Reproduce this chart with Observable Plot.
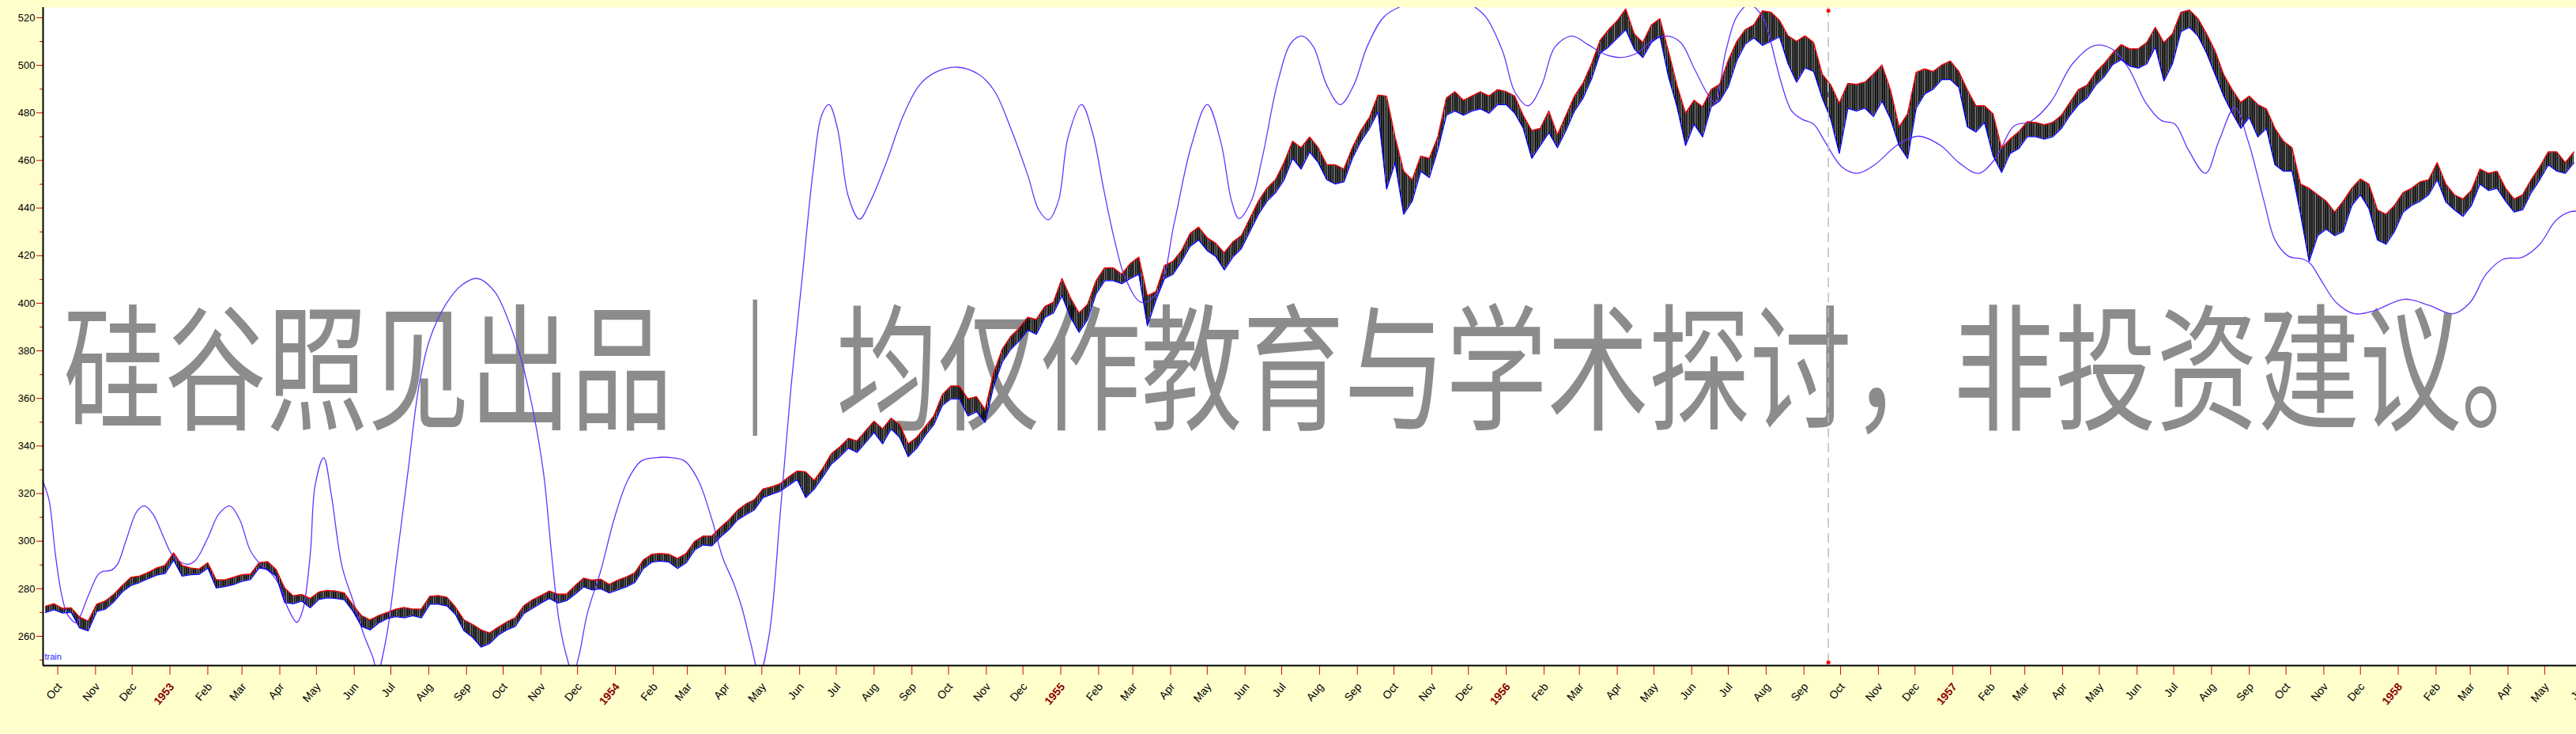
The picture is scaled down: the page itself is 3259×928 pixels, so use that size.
<!DOCTYPE html>
<html><head><meta charset="utf-8">
<script src="https://cdn.jsdelivr.net/npm/d3@7"></script>
<script src="https://cdn.jsdelivr.net/npm/@observablehq/plot@0.6"></script>
<style>
html,body{margin:0;padding:0;background:#ffffcc;}
#chart{width:3259px;height:928px;overflow:hidden;}
</style></head>
<body>
<svg width="0" height="0" style="position:absolute">
<defs><pattern id="bars" patternUnits="userSpaceOnUse" width="2.24" height="8"><rect x="0" y="0" width="1.75" height="8" fill="#000"/></pattern></defs>
</svg>
<div id="chart"></div>
<script>
// weekly samples (week starting Sunday)
const weeks = [
"1952-09-21","1952-09-28","1952-10-05","1952-10-12","1952-10-19","1952-10-26","1952-11-02","1952-11-09","1952-11-16","1952-11-23","1952-11-30","1952-12-07","1952-12-14","1952-12-21","1952-12-28",
"1953-01-04","1953-01-11","1953-01-18","1953-01-25","1953-02-01","1953-02-08","1953-02-15","1953-02-22","1953-03-01","1953-03-08","1953-03-15","1953-03-22","1953-03-29","1953-04-05","1953-04-12","1953-04-19","1953-04-26","1953-05-03","1953-05-10","1953-05-17","1953-05-24","1953-05-31","1953-06-07","1953-06-14","1953-06-21","1953-06-28","1953-07-05","1953-07-12","1953-07-19","1953-07-26","1953-08-02","1953-08-09","1953-08-16","1953-08-23","1953-08-30","1953-09-06","1953-09-13","1953-09-20","1953-09-27","1953-10-04","1953-10-11","1953-10-18","1953-10-25","1953-11-01","1953-11-08","1953-11-15","1953-11-22","1953-11-29","1953-12-06","1953-12-13","1953-12-20","1953-12-27",
"1954-01-03","1954-01-10","1954-01-17","1954-01-24","1954-01-31","1954-02-07","1954-02-14","1954-02-21","1954-02-28","1954-03-07","1954-03-14","1954-03-21","1954-03-28","1954-04-04","1954-04-11","1954-04-18","1954-04-25","1954-05-02","1954-05-09","1954-05-16","1954-05-23","1954-05-30","1954-06-06","1954-06-13","1954-06-20","1954-06-27","1954-07-04","1954-07-11","1954-07-18","1954-07-25","1954-08-01","1954-08-08","1954-08-15","1954-08-22","1954-08-29","1954-09-05","1954-09-12","1954-09-19","1954-09-26","1954-10-03","1954-10-10","1954-10-17","1954-10-24","1954-10-31","1954-11-07","1954-11-14","1954-11-21","1954-11-28","1954-12-05","1954-12-12","1954-12-19","1954-12-26",
"1955-01-02","1955-01-09","1955-01-16","1955-01-23","1955-01-30","1955-02-06","1955-02-13","1955-02-20","1955-02-27","1955-03-06","1955-03-13","1955-03-20","1955-03-27","1955-04-03","1955-04-10","1955-04-17","1955-04-24","1955-05-01","1955-05-08","1955-05-15","1955-05-22","1955-05-29","1955-06-05","1955-06-12","1955-06-19","1955-06-26","1955-07-03","1955-07-10","1955-07-17","1955-07-24","1955-07-31","1955-08-07","1955-08-14","1955-08-21","1955-08-28","1955-09-04","1955-09-11","1955-09-18","1955-09-25","1955-10-02","1955-10-09","1955-10-16","1955-10-23","1955-10-30","1955-11-06","1955-11-13","1955-11-20","1955-11-27","1955-12-04","1955-12-11","1955-12-18","1955-12-25",
"1956-01-01","1956-01-08","1956-01-15","1956-01-22","1956-01-29","1956-02-05","1956-02-12","1956-02-19","1956-02-26","1956-03-04","1956-03-11","1956-03-18","1956-03-25","1956-04-01","1956-04-08","1956-04-15","1956-04-22","1956-04-29","1956-05-06","1956-05-13","1956-05-20","1956-05-27","1956-06-03","1956-06-10","1956-06-17","1956-06-24","1956-07-01","1956-07-08","1956-07-15","1956-07-22","1956-07-29","1956-08-05","1956-08-12","1956-08-19","1956-08-26","1956-09-02","1956-09-09","1956-09-16","1956-09-23","1956-09-30","1956-10-07","1956-10-14","1956-10-21","1956-10-28","1956-11-04","1956-11-11","1956-11-18","1956-11-25","1956-12-02","1956-12-09","1956-12-16","1956-12-23","1956-12-30",
"1957-01-06","1957-01-13","1957-01-20","1957-01-27","1957-02-03","1957-02-10","1957-02-17","1957-02-24","1957-03-03","1957-03-10","1957-03-17","1957-03-24","1957-03-31","1957-04-07","1957-04-14","1957-04-21","1957-04-28","1957-05-05","1957-05-12","1957-05-19","1957-05-26","1957-06-02","1957-06-09","1957-06-16","1957-06-23","1957-06-30","1957-07-07","1957-07-14","1957-07-21","1957-07-28","1957-08-04","1957-08-11","1957-08-18","1957-08-25","1957-09-01","1957-09-08","1957-09-15","1957-09-22","1957-09-29","1957-10-06","1957-10-13","1957-10-20","1957-10-27","1957-11-03","1957-11-10","1957-11-17","1957-11-24","1957-12-01","1957-12-08","1957-12-15","1957-12-22","1957-12-29",
"1958-01-05","1958-01-12","1958-01-19","1958-01-26","1958-02-02","1958-02-09","1958-02-16","1958-02-23","1958-03-02","1958-03-09","1958-03-16","1958-03-23","1958-03-30","1958-04-06","1958-04-13","1958-04-20","1958-04-27","1958-05-04","1958-05-11","1958-05-18","1958-05-25"
];
const highs = [
272.6,273.7,271.7,272.0,268.1,266.4,273.5,274.8,277.6,281.4,
284.8,285.3,286.8,288.7,289.8,295.1,289.8,288.7,288.3,290.9,
283.7,283.7,284.8,285.9,286.1,290.9,291.4,288.1,280.3,277.0,
277.6,275.9,278.6,279.3,279.0,278.2,273.2,268.7,266.9,268.7,
270.0,271.4,272.1,271.4,271.4,276.8,277.1,276.4,272.3,266.9,
265.0,262.7,261.4,263.8,266.0,267.8,272.8,275.3,277.1,279.0,
277.7,277.7,281.3,284.4,283.6,284.0,281.8,283.6,284.9,286.7,
292.1,294.5,294.8,294.5,292.7,294.8,299.9,302.1,302.1,305.7,
308.9,312.9,315.6,317.4,321.9,322.8,324.1,327.0,329.5,329.1,
325.5,330.6,336.7,339.6,343.2,342.1,346.3,350.4,347.2,351.7,
349.0,340.9,343.6,348.1,352.6,361.6,365.2,365.2,359.8,360.7,
355.3,370.6,380.6,386.0,389.6,394.1,393.2,398.6,400.4,410.4,
402.2,395.9,399.5,409.5,414.9,414.9,412.2,416.7,419.4,403.1,
404.9,415.8,417.6,422.1,429.3,432.0,427.5,425.2,421.2,425.7,
428.4,435.6,442.9,448.3,451.9,459.1,468.1,465.4,469.9,465.4,
458.2,458.2,456.4,465.4,472.6,478.1,487.5,487.0,469.9,455.5,
451.9,461.8,460.9,469.9,486.2,488.9,485.3,487.1,488.9,487.1,
489.8,488.9,487.1,478.9,472.6,473.5,480.8,470.8,478.9,487.1,
492.5,500.6,510.5,515.0,518.7,523.7,513.2,509.6,516.9,519.6,
506.0,491.6,479.9,485.3,482.6,489.8,492.0,502.0,510.0,515.0,
517.0,522.9,522.3,518.9,512.4,510.1,512.4,509.6,496.3,491.8,
484.1,492.4,492.0,492.9,496.3,500.1,489.6,474.1,479.6,497.0,
498.5,497.4,500.1,501.8,497.4,489.6,483.0,483.0,479.6,465.2,
469.0,472.0,476.3,476.0,475.0,476.0,478.9,484.4,489.8,491.6,
497.0,500.6,505.1,508.7,506.9,506.9,509.6,516.0,509.6,513.2,
522.3,523.2,519.6,513.2,506.0,496.1,489.8,484.4,487.1,483.5,
481.7,473.5,468.1,465.4,450.1,448.3,445.6,442.9,438.3,442.9,
448.3,452.2,450.1,439.2,437.4,441.1,446.5,448.3,451.0,451.9,
459.1,450.1,445.6,443.8,447.4,456.4,454.6,455.5,448.3,443.8,
445.6,451.9,457.3,463.6,463.6,459.1,463.6
];
const lows = [
270.0,271.2,269.8,270.1,263.5,262.3,270.5,271.4,274.5,278.7,
281.4,282.6,284.2,285.7,286.4,292.0,285.3,285.9,286.1,288.7,
280.3,280.9,281.7,283.1,283.9,288.7,288.1,285.3,274.2,273.7,
274.8,272.0,275.5,276.2,275.9,275.3,270.5,264.2,262.7,265.6,
267.4,268.3,267.8,268.7,267.8,273.5,273.5,272.8,269.2,262.3,
259.6,255.5,257.0,260.5,262.7,264.2,269.6,271.7,274.0,275.9,
274.0,275.0,277.7,280.8,279.5,280.0,278.2,279.5,280.8,282.6,
288.5,291.2,291.6,291.2,288.5,290.9,296.3,298.4,298.0,301.7,
304.8,308.9,311.1,313.2,318.3,319.7,321.0,323.4,325.9,318.3,
321.9,327.0,332.4,335.5,339.1,337.3,341.4,345.7,340.9,347.2,
343.6,335.5,339.1,344.5,349.0,357.1,359.8,359.8,352.6,354.4,
349.9,365.2,375.2,380.6,384.2,388.7,386.9,394.1,395.9,403.1,
394.1,387.8,393.2,404.0,409.5,409.5,408.2,410.4,412.2,390.5,
401.3,410.4,412.2,417.6,423.9,426.6,422.1,419.7,414.0,419.4,
423.0,430.2,437.4,442.9,446.5,451.9,460.9,456.4,463.6,459.1,
451.9,450.1,451.0,460.9,468.1,473.5,480.5,448.0,459.1,437.4,
442.9,455.5,452.8,464.5,479.0,480.8,479.0,480.8,481.7,479.9,
483.5,483.5,479.9,473.5,460.9,466.3,471.7,465.4,472.6,480.8,
486.2,494.3,505.1,507.8,511.4,515.0,506.9,503.3,509.6,512.3,
495.2,482.6,466.3,475.3,469.9,482.6,485.0,491.0,502.0,509.0,
511.5,508.4,510.1,512.0,500.7,492.9,499.0,497.4,486.3,477.4,
463.0,481.9,480.8,482.0,478.5,485.0,477.4,466.3,460.8,482.0,
488.0,490.0,494.0,494.0,490.7,474.1,472.0,476.0,462.0,455.0,
463.0,465.0,470.0,470.0,469.0,470.0,473.5,479.0,483.5,486.2,
491.6,495.2,500.3,502.4,499.7,498.8,500.6,507.8,493.4,500.6,
514.2,516.0,512.3,505.1,496.1,487.1,479.9,473.5,478.1,469.9,
473.5,458.2,455.5,455.5,437.4,417.6,428.4,431.1,428.4,430.2,
441.1,445.6,439.8,426.6,424.8,430.2,438.3,441.1,442.9,445.6,
451.9,442.6,439.3,436.5,441.1,450.1,447.4,448.3,442.9,438.3,
439.3,446.5,451.9,458.2,455.5,454.6,459.1
];
// smooth "train" curve
const trainDates = [
"1952-09-19","1952-09-24","1952-09-29","1952-10-04","1952-10-09","1952-10-16","1952-10-19","1952-10-26","1952-11-03","1952-11-07","1952-11-14","1952-11-19","1952-11-26","1952-12-05","1952-12-11","1952-12-18","1952-12-27",
"1953-01-02","1953-01-09","1953-01-16","1953-01-22","1953-02-01","1953-02-10","1953-02-19","1953-02-27","1953-03-08","1953-03-17","1953-03-25","1953-04-01","1953-04-07","1953-04-15","1953-04-20","1953-04-26","1953-04-30","1953-05-07","1953-05-13","1953-05-22","1953-05-31","1953-06-09","1953-06-16","1953-06-20","1953-06-27","1953-07-06","1953-07-15","1953-07-24","1953-08-02","1953-08-15","1953-08-28","1953-09-10","1953-09-24","1953-10-07","1953-10-16","1953-10-25","1953-11-03","1953-11-10","1953-11-16","1953-11-23","1953-11-27","1953-12-02","1953-12-09","1953-12-20","1953-12-31",
"1954-01-11","1954-01-22","1954-02-03","1954-02-16","1954-02-27","1954-03-10","1954-03-21","1954-03-30","1954-04-08","1954-04-15","1954-04-22","1954-04-29","1954-05-07","1954-05-16","1954-05-25","1954-06-03","1954-06-12","1954-06-19","1954-06-25","1954-07-02","1954-07-11","1954-07-20","1954-07-29","1954-08-11","1954-08-25","1954-09-07","1954-09-20","1954-10-08","1954-10-26","1954-11-08","1954-11-21","1954-12-05","1954-12-14","1954-12-22","1954-12-30",
"1955-01-07","1955-01-18","1955-01-27","1955-02-05","1955-02-14","1955-02-23","1955-03-08","1955-03-22","1955-04-04","1955-04-18","1955-05-01","1955-05-12","1955-05-21","1955-05-27","1955-06-06","1955-06-15","1955-06-28","1955-07-09","1955-07-18","1955-07-27","1955-08-07","1955-08-18","1955-08-29","1955-09-09","1955-09-23","1955-10-11","1955-11-06","1955-12-02","1955-12-15","1955-12-29",
"1956-01-08","1956-01-19","1956-01-30","1956-02-10","1956-02-24","1956-03-08","1956-03-22","1956-04-04","1956-04-17","1956-04-30","1956-05-12","1956-05-23","1956-06-03","1956-06-14","1956-06-20","1956-06-29","1956-07-08","1956-07-18","1956-07-29","1956-08-04","1956-08-13","1956-08-22","1956-08-31","1956-09-09","1956-09-18","1956-10-02","1956-10-15","1956-10-29","1956-11-16","1956-12-04","1956-12-22",
"1957-01-06","1957-01-22","1957-02-05","1957-02-20","1957-03-06","1957-03-22","1957-04-09","1957-04-27","1957-05-11","1957-05-25","1957-06-08","1957-06-21","1957-07-02","1957-07-13","1957-07-27","1957-08-07","1957-08-20","1957-08-31","1957-09-13","1957-09-22","1957-10-03","1957-10-15","1957-10-21","1957-10-30","1957-11-11","1957-11-26","1957-12-12",
"1958-01-06","1958-01-26","1958-02-15","1958-03-01","1958-03-14","1958-03-28","1958-04-13","1958-04-27","1958-05-10","1958-05-21","1958-05-27"
];
const trainValues = [
325,317,294.8,278,269.2,265.7,268,277,285.9,287.3,287.8,290.3,300.3,312.6,314.8,311.4,301.4,
294.8,291.4,290.3,292,301.4,311.4,314.8,309.2,295.9,289.8,286.4,281.4,272.6,265.9,271.4,294.8,323.7,335.1,320.1,289.4,275,260.5,251.5,245,258.7,293,329.1,365.2,385.1,399.5,407.6,410.4,404.9,390.5,376.1,356.2,329.1,293,266,249.7,244,251.5,269.6,287.6,309.3,
325.5,333.6,335.1,335.1,333.6,325.5,309.3,293,282.2,271.4,256.9,244,260.5,311.1,365.2,410.4,455.5,479,483.5,473.5,444.7,435.3,442.9,459.1,479,491.6,497,499.2,496.1,488.9,473.5,453.7,439.2,435.1,442.9,
469.9,483.5,471.7,448.3,426.6,410.4,400.4,404.9,433.8,466.3,483.5,468.1,442.9,435.6,442.9,460.9,493.4,509.6,512.3,507.8,491.6,483.5,491.6,507.8,520.5,526,534,526,520.5,506,
488.9,483,491.6,507.8,512.3,508.7,504.6,503.3,505.1,510.5,512.3,509.6,498.8,488,484.4,506,520.5,525.5,520.5,511.4,493.4,480.8,477.2,475.3,468.1,457.3,454.6,458.2,466.3,470.2,466.3,
459.1,454.6,460.9,474.4,476.5,484.4,500.6,508.3,507,498.8,484.4,476.8,475.3,464.5,454.6,468.1,482.2,468.1,442.9,426.6,419.8,418.5,416.7,409.5,400.4,395.6,396.8,
401.7,399.2,395.6,400.4,412.2,418.5,419.4,424.8,434.7,438.3,438.7
];
const tickDates = [
"1952-10","1952-11","1952-12",
"1953-01","1953-02","1953-03","1953-04","1953-05","1953-06","1953-07","1953-08","1953-09","1953-10","1953-11","1953-12",
"1954-01","1954-02","1954-03","1954-04","1954-05","1954-06","1954-07","1954-08","1954-09","1954-10","1954-11","1954-12",
"1955-01","1955-02","1955-03","1955-04","1955-05","1955-06","1955-07","1955-08","1955-09","1955-10","1955-11","1955-12",
"1956-01","1956-02","1956-03","1956-04","1956-05","1956-06","1956-07","1956-08","1956-09","1956-10","1956-11","1956-12",
"1957-01","1957-02","1957-03","1957-04","1957-05","1957-06","1957-07","1957-08","1957-09","1957-10","1957-11","1957-12",
"1958-01","1958-02","1958-03","1958-04","1958-05","1958-06"
];
const tickLabels = [
"Oct","Nov","Dec",
"1953","Feb","Mar","Apr","May","Jun","Jul","Aug","Sep","Oct","Nov","Dec",
"1954","Feb","Mar","Apr","May","Jun","Jul","Aug","Sep","Oct","Nov","Dec",
"1955","Feb","Mar","Apr","May","Jun","Jul","Aug","Sep","Oct","Nov","Dec",
"1956","Feb","Mar","Apr","May","Jun","Jul","Aug","Sep","Oct","Nov","Dec",
"1957","Feb","Mar","Apr","May","Jun","Jul","Aug","Sep","Oct","Nov","Dec",
"1958","Feb","Mar","Apr","May","Jun"
];
const yMajor = [260,280,300,320,340,360,380,400,420,440,460,480,500,520];
const yMinor = [250,270,290,310,330,350,370,390,410,430,450,470,490,510];
const markerDate = "1956-09-21";
const markerEnds = [523.0, 249.0];
const seriesLabel = "train";
const watermarkParts = ["硅谷照见出品", "｜", "均仅作教育与学术探讨，非投资建议。"];

const price = weeks.map((d, i) => ({date: new Date(d), high: highs[i], low: lows[i]}));
const train = trainDates.map((d, i) => ({date: new Date(d), value: trainValues[i]}));
const ticks = tickDates.map((d, i) => ({date: new Date(d), label: tickLabels[i], year: /^\d{4}$/.test(tickLabels[i])}));
const xStart = new Date("1952-09-19");
const xEnd = new Date("1958-05-27");
const yDom = [247.7, 524.3];

const chart = Plot.plot({
  width: 3259, height: 928,
  marginLeft: 54, marginRight: 0, marginTop: 9, marginBottom: 87,
  style: {background: "transparent", fontFamily: "'Liberation Sans', Arial, sans-serif", overflow: "visible"},
  x: {type: "utc", domain: [xStart, xEnd], axis: null},
  y: {domain: yDom, axis: null},
  marks: [
    Plot.frame({fill: "white", stroke: null}),
    Plot.areaY(price, {x: "date", y1: "low", y2: "high", fill: "url(#bars)"}),
    Plot.line(train, {x: "date", y: "value", stroke: "#6633ff", strokeWidth: 1.3, curve: "catmull-rom", clip: true}),
    Plot.line(price, {x: "date", y: "high", stroke: "#ff0000", strokeWidth: 1.3}),
    Plot.line(price, {x: "date", y: "low", stroke: "#0000ff", strokeWidth: 1.3}),
    Plot.ruleX([new Date(markerDate)], {stroke: "#bdbdbd", strokeWidth: 1.5, strokeDasharray: "12,7"}),
    Plot.dot(markerEnds, {x: () => new Date(markerDate), y: d => d, r: 2.5, fill: "#ff0000", stroke: null}),
    Plot.axisY({ticks: yMajor, tickSize: 8, tickPadding: 2, stroke: "#cc0000", fill: "black", fontSize: 13, tickFormat: d => String(d)}),
    Plot.axisY({ticks: yMinor, tickSize: 4, stroke: "#cc0000", tickFormat: () => ""}),
    Plot.axisX({ticks: ticks.map(t => t.date), tickSize: 12, stroke: "#dd0000", tickFormat: () => ""}),
    Plot.ruleX([xStart], {stroke: "black", strokeWidth: 2}),
    Plot.ruleY([yDom[0]], {stroke: "black", strokeWidth: 2}),
    Plot.text(ticks.filter(t => !t.year), {x: "date", text: "label", frameAnchor: "bottom", rotate: -50, textAnchor: "end", dx: 6, dy: 27, fontSize: 14, fill: "black"}),
    Plot.text(ticks.filter(t => t.year), {x: "date", text: "label", frameAnchor: "bottom", rotate: -50, textAnchor: "end", dx: 6, dy: 27, fontSize: 14, fill: "#8b0000", fontWeight: "bold"}),
    Plot.text([seriesLabel], {text: d => d, frameAnchor: "bottom-left", textAnchor: "start", dx: 2, dy: -8, fontSize: 11, fill: "#2222ff"})
  ]
});

// watermark (real text), placed just above the white plot background
const ns = "http://www.w3.org/2000/svg";
const wm = document.createElementNS(ns, "text");
wm.setAttribute("transform", "scale(1,1.34)");
wm.setAttribute("font-family", "'Noto Sans CJK SC', sans-serif");
wm.setAttribute("font-size", "128.5");
wm.setAttribute("text-anchor", "start");
wm.setAttribute("fill", "#8c8c8c");
const wmX = [80, 891, 1058];
watermarkParts.forEach((s, i) => {
  const ts = document.createElementNS(ns, "tspan");
  ts.setAttribute("x", wmX[i]);
  ts.setAttribute("y", 395.5);
  ts.setAttribute("text-anchor", "start");
  ts.textContent = s;
  wm.appendChild(ts);
});
const frameEl = chart.querySelector('[aria-label="frame"]');
if (frameEl) frameEl.after(wm); else chart.appendChild(wm);

document.getElementById("chart").appendChild(chart);
</script>
</body></html>
